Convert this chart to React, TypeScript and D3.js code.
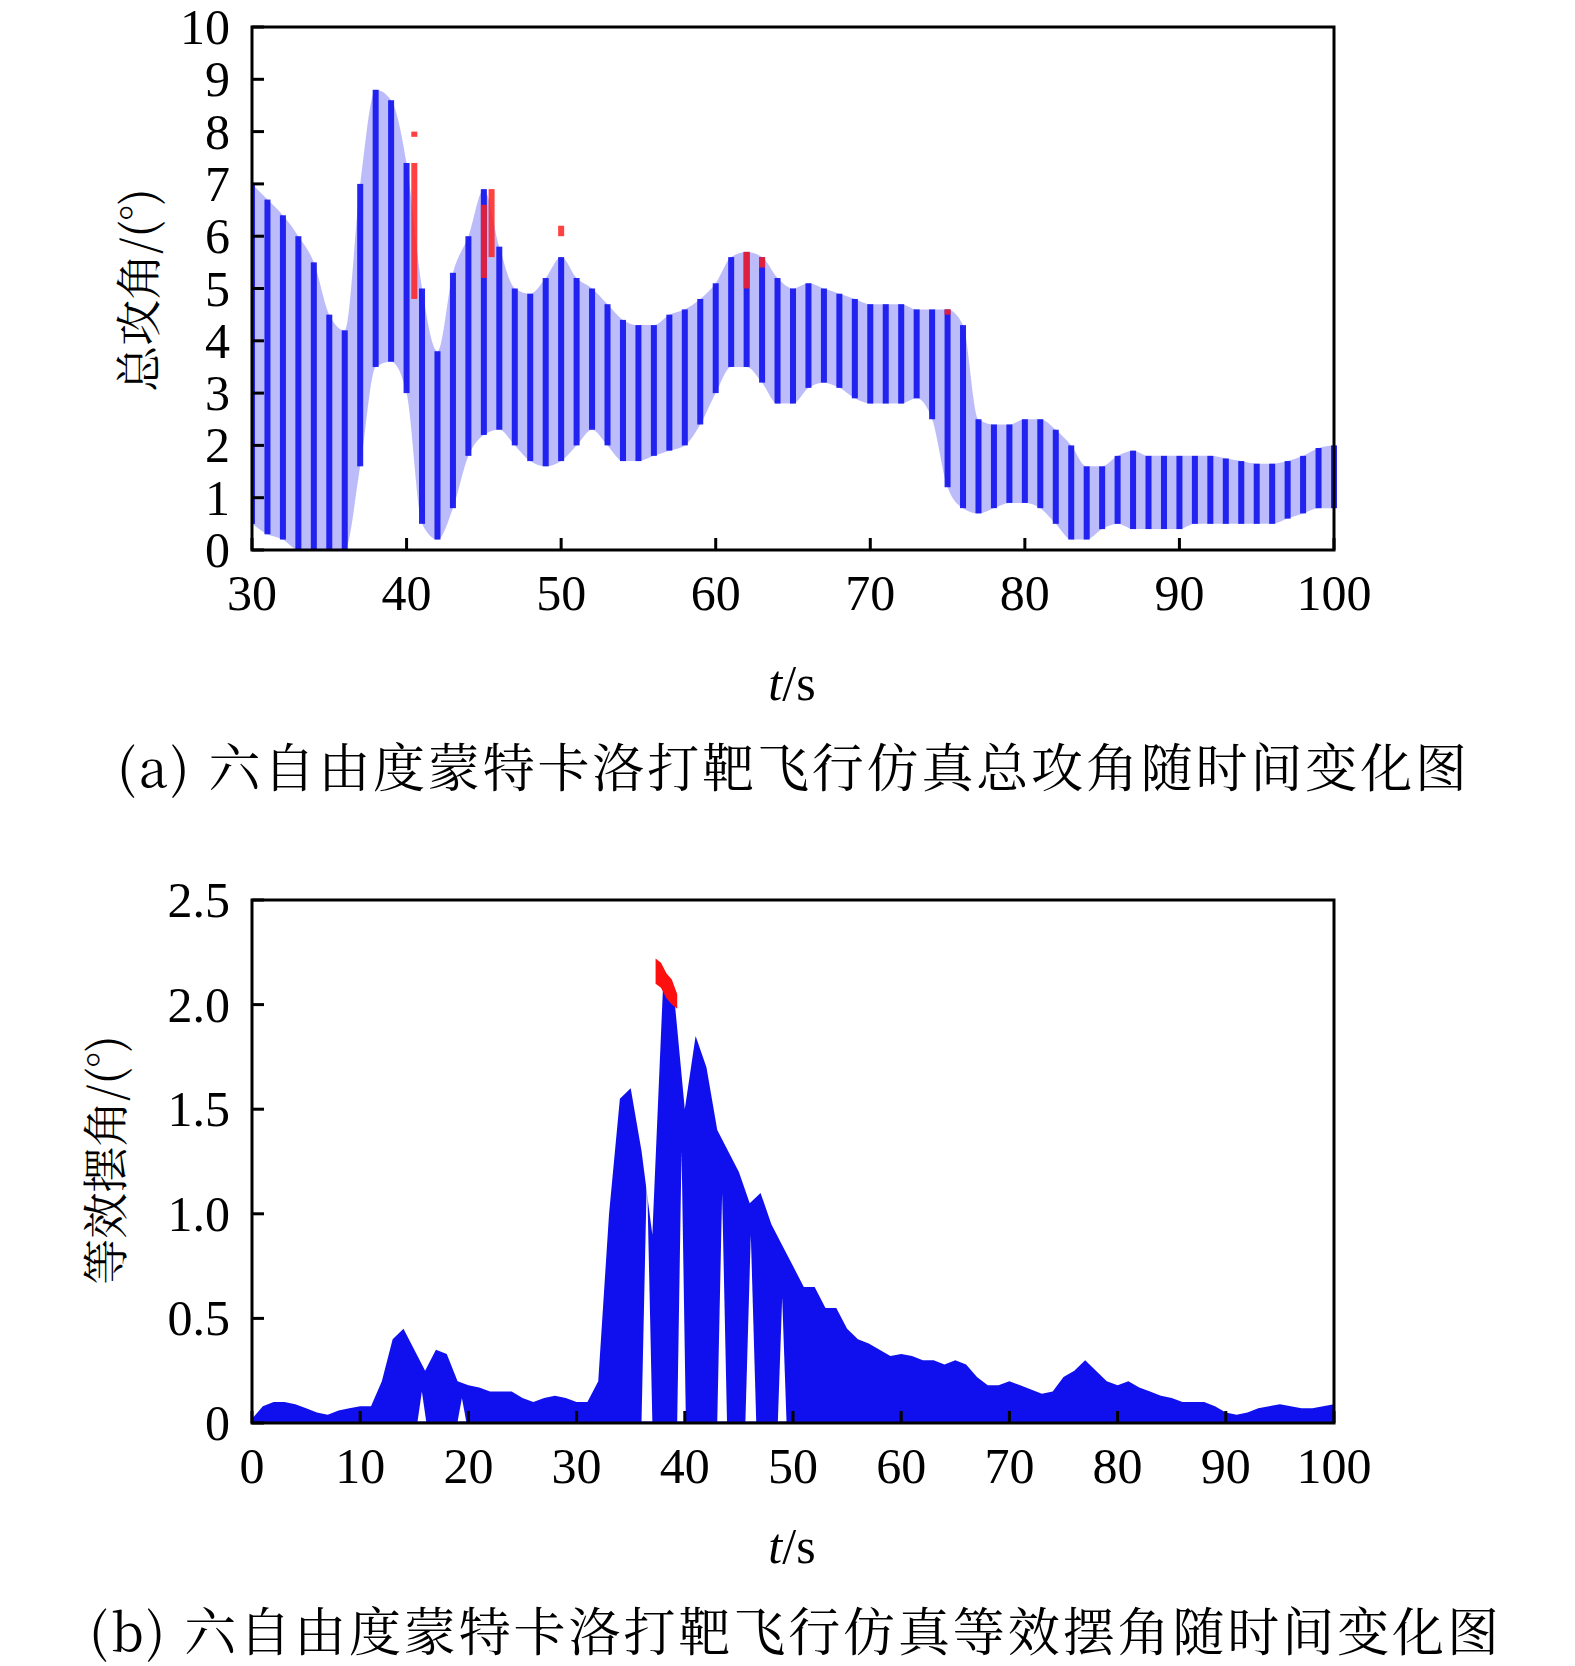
import React from 'react';
import * as d3 from 'd3';

// chart (a): total angle of attack, envelope per second
const timeA = d3.range(30, 101, 1);
const upperA = [7.0, 6.7, 6.4, 6.0, 5.5, 4.5, 4.2, 7.0, 8.8, 8.6, 7.4, 5.0, 3.8, 5.3, 6.0, 6.9, 5.8, 5.0, 4.9, 5.2,
  5.6, 5.2, 5.0, 4.7, 4.4, 4.3, 4.3, 4.5, 4.6, 4.8, 5.1, 5.6, 5.7, 5.6, 5.2, 5.0, 5.1, 5.0, 4.9, 4.8,
  4.7, 4.7, 4.7, 4.6, 4.6, 4.6, 4.3, 2.5, 2.4, 2.4, 2.5, 2.5, 2.3, 2.0, 1.6, 1.6, 1.8, 1.9, 1.8, 1.8,
  1.8, 1.8, 1.8, 1.75, 1.7, 1.65, 1.65, 1.7, 1.8, 1.95, 2.0];
const lowerA = [0.5, 0.3, 0.2, 0, 0, 0, 0, 1.6, 3.5, 3.6, 3.0, 0.5, 0.2, 0.8, 1.8, 2.2, 2.3, 2.0, 1.7, 1.6,
  1.7, 2.0, 2.3, 2.0, 1.7, 1.7, 1.8, 1.9, 2.0, 2.4, 3.0, 3.5, 3.5, 3.2, 2.8, 2.8, 3.1, 3.2, 3.1, 2.9,
  2.8, 2.8, 2.8, 2.9, 2.5, 1.2, 0.8, 0.7, 0.8, 0.9, 0.9, 0.8, 0.5, 0.2, 0.2, 0.4, 0.5, 0.4, 0.4, 0.4,
  0.4, 0.5, 0.5, 0.5, 0.5, 0.5, 0.5, 0.6, 0.7, 0.8, 0.8];
// red segments in (a): [t, low, high]
const redA: [number, number, number][] = [[40.5, 4.8, 7.4], [40.5, 7.9, 8.0], [45, 5.2, 6.6], [45.5, 5.6, 6.9], [50, 6.0, 6.2], [62, 5.0, 5.7], [63, 5.4, 5.6], [75, 4.5, 4.6]];
const xTicksA = [30, 40, 50, 60, 70, 80, 90, 100];
const yTicksA = [0, 1, 2, 3, 4, 5, 6, 7, 8, 9, 10];

// chart (b): equivalent swing angle upper envelope
const timeB = d3.range(0, 101, 1);
const upperB = [0.02, 0.08, 0.1, 0.1, 0.09, 0.07, 0.05, 0.04, 0.06, 0.07, 0.08, 0.08, 0.2, 0.4, 0.45, 0.35, 0.25, 0.35, 0.33, 0.2,
  0.18, 0.17, 0.15, 0.15, 0.15, 0.12, 0.1, 0.12, 0.13, 0.12, 0.1, 0.1, 0.2, 1.0, 1.55, 1.6, 1.3, 0.9, 2.1, 2.05,
  1.5, 1.85, 1.7, 1.4, 1.3, 1.2, 1.05, 1.1, 0.95, 0.85, 0.75, 0.65, 0.65, 0.55, 0.55, 0.45, 0.4, 0.38, 0.35, 0.32,
  0.33, 0.32, 0.3, 0.3, 0.28, 0.3, 0.28, 0.22, 0.18, 0.18, 0.2, 0.18, 0.16, 0.14, 0.15, 0.22, 0.25, 0.3, 0.25, 0.2,
  0.18, 0.2, 0.17, 0.15, 0.13, 0.12, 0.1, 0.1, 0.1, 0.08, 0.05, 0.04, 0.05, 0.07, 0.08, 0.09, 0.08, 0.07, 0.07, 0.08, 0.09];
// white gaps in (b): start, end, apex height
const gapStart = [15.3, 19.0, 36.0, 39.3, 43.0, 45.6, 48.6];
const gapEnd = [16.1, 19.8, 37.0, 40.1, 43.9, 46.6, 49.4];
const gapTop = [0.15, 0.12, 1.2, 1.3, 1.1, 0.9, 0.6];
// red cap in (b)
const redTB = [37.3, 37.8, 38.3, 38.8, 39.3];
const redHiB = [2.22, 2.2, 2.15, 2.12, 2.05];
const redLoB = [2.1, 2.08, 2.03, 2.0, 1.98];
const xTicksB = [0, 10, 20, 30, 40, 50, 60, 70, 80, 90, 100];
const yTicksB = [0, 0.5, 1.0, 1.5, 2.0, 2.5];

const W = 1575, H = 1666;
const L = 252, R = 1334;
const serif = '"Liberation Serif", "Times New Roman", serif';
const cjk = '"Noto Serif CJK SC", "Noto Sans CJK SC", serif';
const BLUE = '#1010ee';

function Frame({ top, bottom, x, y, xTicks, yTicks, yFmt }: any) {
  return (
    <g>
      {xTicks.map((t: number) => (
        <g key={'x' + t}>
          <line x1={x(t)} x2={x(t)} y1={bottom} y2={bottom - 12} stroke="#000" strokeWidth={3} />
          <text x={x(t)} y={bottom + 60} textAnchor="middle" fontFamily={serif} fontSize={50}>{t}</text>
        </g>
      ))}
      {yTicks.map((t: number) => (
        <g key={'y' + t}>
          <line x1={L} x2={L + 12} y1={y(t)} y2={y(t)} stroke="#000" strokeWidth={3} />
          <text x={L - 22} y={y(t) + 17} textAnchor="end" fontFamily={serif} fontSize={50}>{yFmt(t)}</text>
        </g>
      ))}
      <rect x={L} y={top} width={R - L} height={bottom - top} fill="none" stroke="#000" strokeWidth={3} />
    </g>
  );
}

export default function App() {
  const topA = 27, botA = 550;
  const xA = d3.scaleLinear().domain([30, 100]).range([L, R]);
  const yA = d3.scaleLinear().domain([0, 10]).range([botA, topA]);
  const topB = 900, botB = 1423;
  const xB = d3.scaleLinear().domain([0, 100]).range([L, R]);
  const yB = d3.scaleLinear().domain([0, 2.5]).range([botB, topB]);

  const bandA = d3.area<number>().x((_, i) => xA(timeA[i])).y0((_, i) => yA(lowerA[i])).y1((_, i) => yA(upperA[i])).curve(d3.curveMonotoneX);
  const areaB = d3.area<number>().x((_, i) => xB(timeB[i])).y0(() => yB(0)).y1((_, i) => yB(upperB[i]));
  const redB = d3.area<number>().x((_, i) => xB(redTB[i])).y0((_, i) => yB(redLoB[i])).y1((_, i) => yB(redHiB[i]));
  const bw = 6;

  return (
    <svg width={W} height={H} style={{ position: 'absolute', left: 0, top: 0, background: '#fff' }}>
      <defs>
        <clipPath id="ca"><rect x={L} y={topA} width={R - L + 8} height={botA - topA} /></clipPath>
      </defs>
      {/* (a) */}
      <g clipPath="url(#ca)">
        <path d={bandA(upperA)!} fill={BLUE} opacity={0.28} />
        {timeA.map((t, i) => (
          <rect key={t} x={xA(t) - bw / 2} width={bw} y={yA(upperA[i])} height={yA(lowerA[i]) - yA(upperA[i])} fill={BLUE} opacity={0.9} />
        ))}
        {redA.map((d, i) => (
          <rect key={'r' + i} x={xA(d[0]) - 3} width={6} y={yA(d[2])} height={Math.max(4, yA(d[1]) - yA(d[2]))} fill="#ff2020" opacity={0.85} />
        ))}
      </g>
      <Frame top={topA} bottom={botA} x={xA} y={yA} xTicks={xTicksA} yTicks={yTicksA} yFmt={(v: number) => String(v)} />
      <text transform={`translate(155,290) rotate(-90)`} textAnchor="middle" fontFamily={cjk} fontSize={46}>总攻角/(°)</text>
      <text x={792} y={700} textAnchor="middle" fontFamily={serif} fontSize={50}><tspan fontStyle="italic">t</tspan>/s</text>
      <text x={792} y={787} textAnchor="middle" fontFamily={cjk} fontSize={52} textLength={1350} lengthAdjust="spacing">(a) 六自由度蒙特卡洛打靶飞行仿真总攻角随时间变化图</text>

      {/* (b) */}
      <path d={areaB(upperB)!} fill={BLUE} />
      {gapStart.map((s, i) => {
        const m = (s + gapEnd[i]) / 2;
        return <path key={'g' + i} d={`M${xB(s)},${yB(0) - 1.5}L${xB(m)},${yB(gapTop[i])}L${xB(gapEnd[i])},${yB(0) - 1.5}Z`} fill="#fff" />;
      })}
      <path d={redB(redTB)!} fill="#ff1010" />
      <Frame top={topB} bottom={botB} x={xB} y={yB} xTicks={xTicksB} yTicks={yTicksB} yFmt={(v: number) => (v === 0 ? '0' : v.toFixed(1))} />
      <text transform={`translate(122,1160) rotate(-90)`} textAnchor="middle" fontFamily={cjk} fontSize={46}>等效摆角/(°)</text>
      <text x={792} y={1563} textAnchor="middle" fontFamily={serif} fontSize={50}><tspan fontStyle="italic">t</tspan>/s</text>
      <text x={794} y={1651} textAnchor="middle" fontFamily={cjk} fontSize={52} textLength={1410} lengthAdjust="spacing">(b) 六自由度蒙特卡洛打靶飞行仿真等效摆角随时间变化图</text>
    </svg>
  );
}
